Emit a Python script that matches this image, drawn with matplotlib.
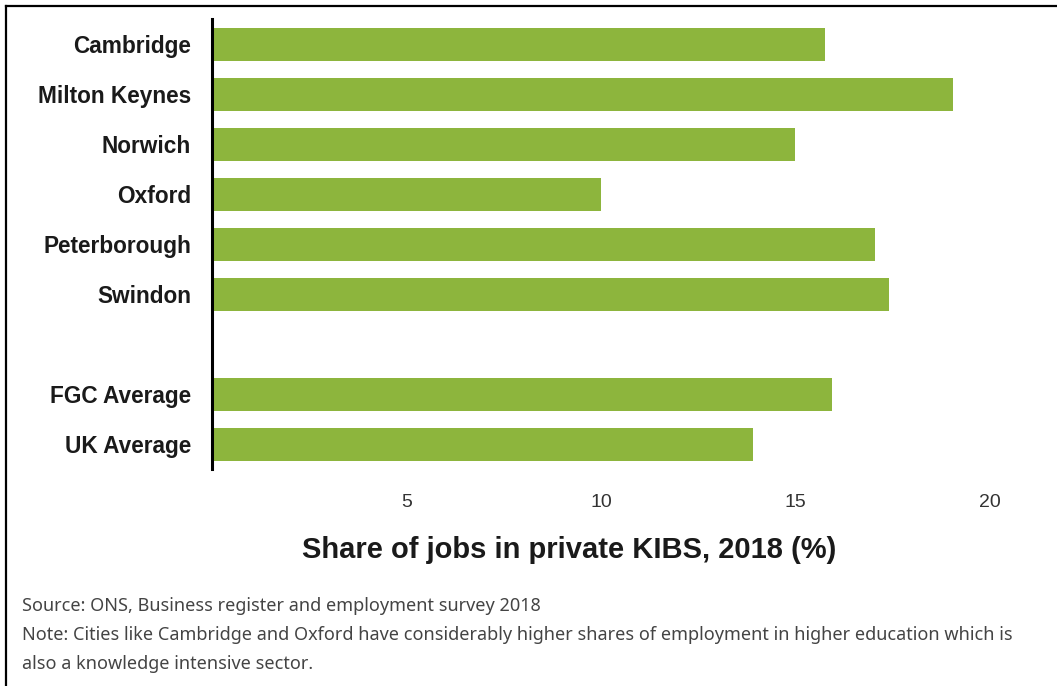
import matplotlib.pyplot as plt
from matplotlib.lines import Line2D

# share of jobs in private KIBS, 2018 (%)
cities = ['Cambridge', 'Milton Keynes', 'Norwich', 'Oxford', 'Peterborough', 'Swindon']
city_share = [15.75, 19.05, 15.0, 10.0, 17.05, 17.4]
averages = ['FGC Average', 'UK Average']
avg_share = [15.95, 13.9]
xticks = [5, 10, 15, 20]

labels = cities + [''] + averages
values = city_share + [None] + avg_share

fig = plt.figure(figsize=(10.57, 6.86), dpi=100)
ax = fig.add_axes([0.2006, 1 - 469 / 686, 0.791, 450 / 686])

pos = [i for i, v in enumerate(values) if v is not None]
ax.barh(pos, [values[i] for i in pos], height=0.66, color='#8db53d', edgecolor='none')

ax.set_ylim(8.5, -0.5)
ax.set_xlim(0, 21.5)
ax.set_yticks(range(len(labels)))
ax.set_yticklabels(labels, fontsize=16.3, fontweight='bold', color='#1a1a1a',
                   family=['Liberation Sans', 'DejaVu Sans'])
ax.set_xticks(xticks)
ax.set_xticklabels([str(t) for t in xticks], fontsize=14, color='#333333',
                   family=['Liberation Sans Narrow', 'Liberation Sans', 'DejaVu Sans'])
ax.tick_params(axis='both', length=0)
ax.tick_params(axis='x', pad=18)
ax.tick_params(axis='y', pad=15)

for side in ['top', 'right', 'bottom']:
    ax.spines[side].set_visible(False)
ax.spines['left'].set_linewidth(2.2)
ax.spines['left'].set_color('black')

fig.text(569 / 1057, 1 - 550 / 686, 'Share of jobs in private KIBS, 2018 (%)',
         ha='center', va='center', fontsize=21, fontweight='bold', color='#1a1a1a',
         family=['Liberation Sans', 'DejaVu Sans'])

notes = [
    'Source: ONS, Business register and employment survey 2018',
    'Note: Cities like Cambridge and Oxford have considerably higher shares of employment in higher education which is',
    'also a knowledge intensive sector.',
]
for k, line in enumerate(notes):
    fig.text(22 / 1057, 1 - (606 + 29 * k) / 686, line, ha='left', va='center',
             fontsize=13, color='#444444', family=['Noto Sans', 'DejaVu Sans'])

# frame on the left and top edges
fig.add_artist(Line2D([6 / 1057, 6 / 1057], [0, 1 - 6 / 686], transform=fig.transFigure,
                      color='black', lw=1.6))
fig.add_artist(Line2D([6 / 1057, 1], [1 - 6 / 686, 1 - 6 / 686], transform=fig.transFigure,
                      color='black', lw=1.6))

fig.savefig('out.png', dpi=100)
